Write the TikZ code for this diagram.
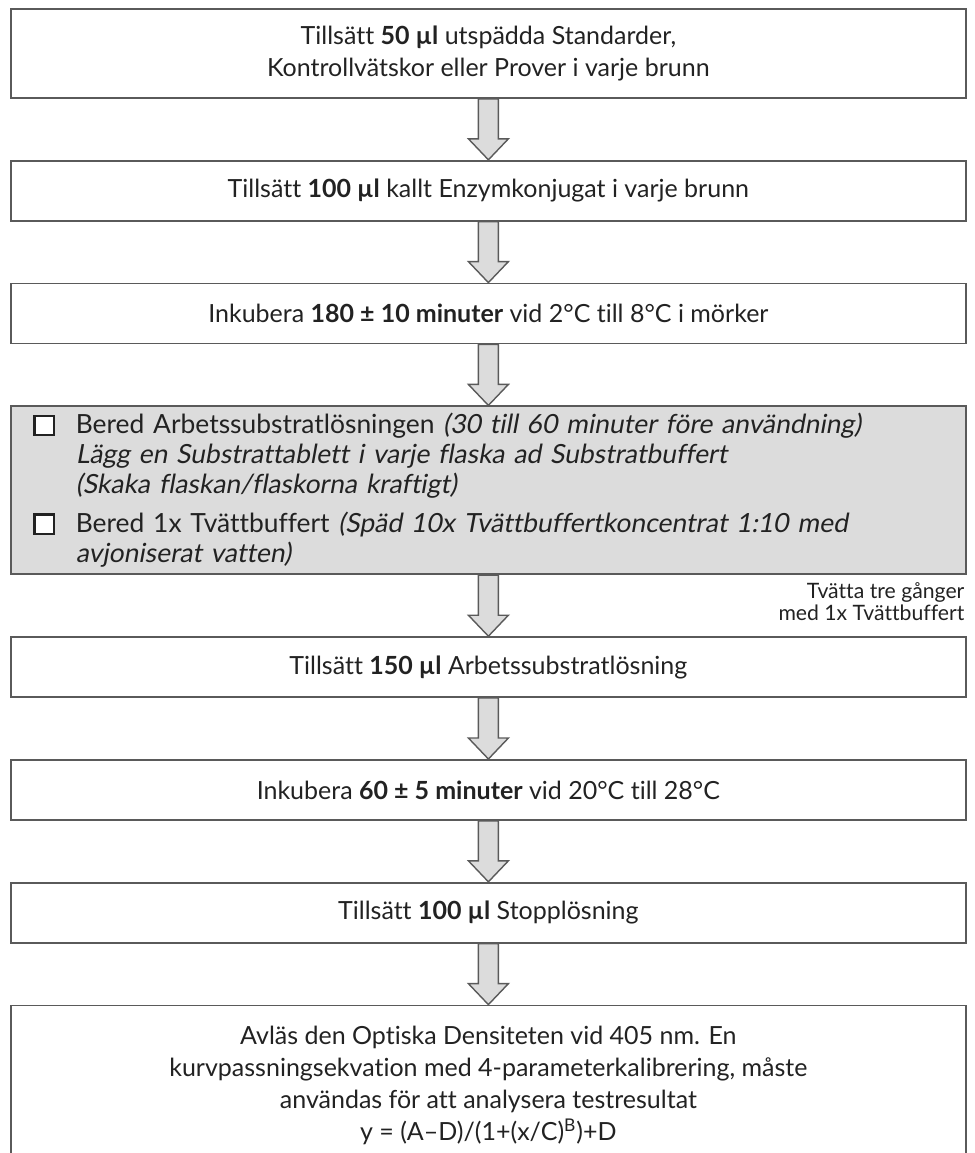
\documentclass[tikz,border=0pt]{standalone}
\usepackage{fontspec}
\setmainfont{Lato}[Ligatures=NoCommon, ItalicFont=Lato,
  ItalicFeatures={FakeSlant=0.18}, BoldItalicFont=Lato Bold]
\usepackage{xcolor}
\usetikzlibrary{positioning, calc}
\definecolor{StepGrey}{HTML}{DCDCDC}
\definecolor{EdgeGrey}{HTML}{5A5A5A}
\definecolor{TextDark}{HTML}{222222}
\newcommand{\tickbox}{\makebox[21.2pt][l]{\setlength\fboxrule{1.1pt}\setlength\fboxsep{0pt}%
  \fcolorbox{TextDark}{white}{\rule{0pt}{8.6pt}\hspace{8.6pt}}}}
\newcommand{\tickskip}{\hspace*{21.2pt}}

\begin{document}
\begin{tikzpicture}[
  node distance=30.5pt,
  stepbox/.style={rectangle, minimum width=477.5pt, minimum height=30pt,
    text centered, align=center, draw=EdgeGrey, line width=0.9pt,
    text=TextDark, font=\fontsize{12.5}{16}\selectfont},
  prepbox/.style={stepbox, fill=StepGrey, align=left, text width=455pt,
    minimum height=84pt, inner ysep=1pt, font=\fontsize{13.2}{14.8}\selectfont},
  flowarrow/.style={draw=EdgeGrey, fill=StepGrey, line width=0.7pt, line join=miter,
    to path={let \p1=(\tikztostart), \p2=(\tikztotarget) in
      (\x1-5pt,\y1) -- (\x1-5pt,\y2+10.5pt) -- (\x1-10pt,\y2+10.5pt) -- (\x1,\y2)
      -- (\x1+10pt,\y2+10.5pt) -- (\x1+5pt,\y2+10.5pt) -- (\x1+5pt,\y1) -- cycle}}
]
\useasboundingbox (0,0) rectangle (487.5pt,-576.5pt);

\node[stepbox, minimum height=44.5pt, anchor=north west] (add50) at (5pt,-4pt)
  {Tillsätt \textbf{50 µl} utspädda Standarder,\\ Kontrollvätskor eller Prover i varje brunn};

\node[stepbox, below=of add50] (add100)
  {Tillsätt \textbf{100 µl} kallt Enzymkonjugat i varje brunn};

\node[stepbox, below=of add100] (inc180)
  {Inkubera \textbf{180 ± 10 minuter} vid 2°C till 8°C i mörker};

\node[prepbox, below=of inc180] (prep)
  {\tickbox Bered Arbetssubstratlösningen \textit{(30 till 60 minuter före användning)}\\
   \tickskip\textit{Lägg en Substrattablett i varje flaska ad Substratbuffert}\\
   \tickskip\textit{(Skaka flaskan/flaskorna kraftigt)}\\[5pt]
   \tickbox Bered 1x Tvättbuffert \textit{(Späd 10x Tvättbuffertkoncentrat 1:10 med}\\
   \tickskip\textit{avjoniserat vatten)}};

\node[stepbox, below=of prep] (add150)
  {Tillsätt \textbf{150 µl} Arbetssubstratlösning};

\node[anchor=north east, align=right, inner sep=0pt, text=TextDark,
  font=\fontsize{10.6}{11.2}\selectfont] (wash) at ($(prep.south east)+(-1pt,-3.5pt)$)
  {Tvätta tre gånger\\ med 1x Tvättbuffert};

\node[stepbox, below=of add150] (inc60)
  {Inkubera \textbf{60 ± 5 minuter} vid 20°C till 28°C};

\node[stepbox, below=of inc60] (stop)
  {Tillsätt \textbf{100 µl} Stopplösning};

\node[stepbox, minimum height=80pt, below=of stop] (read)
  {Avläs den Optiska Densiteten vid 405 nm. En\\
   kurvpassningsekvation med 4-parameterkalibrering, måste\\
   användas för att analysera testresultat\\
   y = (A–D)/(1+(x/C)\textsuperscript{B})+D};

\draw[flowarrow] (add50.south) to (add100.north);
\draw[flowarrow] (add100.south) to (inc180.north);
\draw[flowarrow] (inc180.south) to (prep.north);
\draw[flowarrow] (prep.south) to (add150.north);
\draw[flowarrow] (add150.south) to (inc60.north);
\draw[flowarrow] (inc60.south) to (stop.north);
\draw[flowarrow] (stop.south) to (read.north);
\end{tikzpicture}
\end{document}
